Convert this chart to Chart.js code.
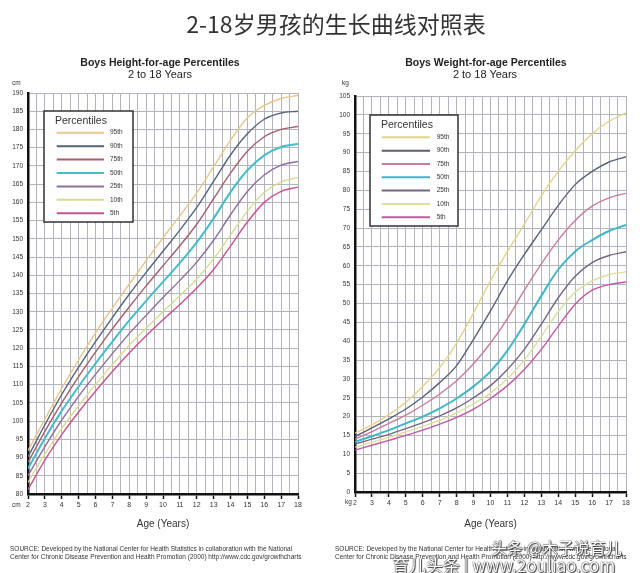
<!DOCTYPE html>
<html><head><meta charset="utf-8">
<script src="https://cdn.jsdelivr.net/npm/chart.js@4.4.0/dist/chart.umd.min.js"></script>
<style>
html,body{margin:0;padding:0;background:#fff;}
#wrap{position:relative;width:640px;height:573px;overflow:hidden;font-family:'Liberation Sans',Arial,sans-serif;color:#222;}
canvas{position:absolute;top:0;}
#cL{left:0px} #cR{left:320px}
.t{position:absolute;white-space:nowrap;line-height:1;}
.c{transform:translateX(-50%);}
.sub1{font-weight:bold;font-size:10.5px;color:#222;}
.sub2{font-size:11px;color:#222;}
.unit{font-size:6.5px;color:#333;}
.src{font-size:6.5px;color:#333;line-height:7.7px;}
.wm{font-family:'Noto Sans CJK SC',sans-serif;color:#fff;text-shadow:0 0 1px #222,0 0 1px #222,1px 1px 1px #444;}
</style></head><body><div id="wrap">
<canvas id="cL" width="320" height="573" style="width:320px;height:573px"></canvas>
<canvas id="cR" width="320" height="573" style="width:320px;height:573px"></canvas>
<div class="t c" style="left:336px;top:12px;font-family:'Noto Sans CJK SC',sans-serif;font-size:23px;color:#333;">2-18岁男孩的生长曲线对照表</div>
<div class="t c sub1" style="left:160px;top:57px;">Boys Height-for-age Percentiles</div>
<div class="t c sub2" style="left:160px;top:69px;">2 to 18 Years</div>
<div class="t c sub1" style="left:486px;top:57px;">Boys Weight-for-age Percentiles</div>
<div class="t c sub2" style="left:485px;top:69px;">2 to 18 Years</div>
<div class="t unit" style="left:12px;top:80px;">cm</div>
<div class="t unit" style="left:12px;top:502px;">cm</div>
<div class="t unit" style="left:342px;top:80px;">kg</div>
<div class="t unit" style="left:345px;top:499px;">kg</div>
<div class="t src" style="left:10px;top:545px;">SOURCE: Developed by the National Center for Health Statistics in collaboration with the National<br>Center for Chronic Disease Prevention and Health Promotion (2000) http://www.cdc.gov/growthcharts</div>
<div class="t src" style="left:335px;top:545px;">SOURCE: Developed by the National Center for Health Statistics in collaboration with the National<br>Center for Chronic Disease Prevention and Health Promotion (2000) http://www.cdc.gov/growthcharts</div>
<div class="t wm" style="left:491px;top:539px;font-size:16px;">头条 @木子说育儿</div>
<div class="t wm" style="left:392px;top:556px;font-size:17px;">育儿头条 | www.2ouliao.com</div>
</div>
<script>
// ---- data ----
const ages = [2,3,4,5,6,7,8,9,10,11,12,13,14,15,16,17,18];
const percentileLabels = ['95th','90th','75th','50th','25th','10th','5th'];

const heightP95 = [91.9,100.5,109.0,116.8,124.2,131.0,137.6,144.0,150.3,156.3,162.6,169.8,177.0,183.2,186.6,188.5,189.3];
const heightP90 = [90.2,99.0,107.3,114.8,121.8,128.4,134.8,140.8,146.6,152.4,158.6,165.8,173.0,178.8,182.8,184.5,185.0];
const heightP75 = [88.7,97.2,105.0,112.2,118.9,125.3,131.3,137.1,142.6,148.1,154.0,161.0,168.0,174.0,178.0,180.0,180.8];
const heightP50 = [87.0,95.3,102.8,109.5,115.8,121.8,127.6,133.0,138.2,143.4,149.0,155.6,162.8,168.8,172.9,175.2,176.0];
const heightP25 = [85.0,93.0,100.3,106.8,112.8,118.5,124.0,129.0,133.9,138.6,143.6,149.6,156.6,163.0,167.5,170.2,171.2];
const heightP10 = [83.2,91.0,98.0,104.2,110.0,115.5,120.8,125.5,130.0,134.4,139.0,144.5,151.0,157.6,162.7,165.6,166.8];
const heightP5  = [81.2,89.3,96.3,102.5,108.2,113.6,118.7,123.4,127.8,132.0,136.5,141.6,148.0,154.6,160.0,163.0,164.2];

const weightP95 = [15.6,17.8,20.5,23.8,28.0,33.0,39.5,47.5,56.0,63.8,71.0,78.5,85.0,90.5,95.0,98.3,100.5];
const weightP90 = [14.7,17.0,19.4,22.0,25.2,29.0,33.5,40.5,48.0,56.0,63.0,69.5,76.0,81.5,85.0,87.5,88.9];
const weightP75 = [14.0,16.0,18.2,20.4,23.0,26.0,29.5,34.0,39.5,46.0,53.5,60.5,66.8,72.0,75.8,78.0,79.2];
const weightP50 = [13.3,14.8,16.4,18.2,20.0,22.2,24.8,28.0,32.0,37.5,44.5,52.0,59.0,63.8,66.8,69.2,70.8];
const weightP25 = [12.7,14.0,15.3,16.8,18.4,20.2,22.3,25.0,28.2,32.5,37.8,44.5,51.5,57.2,60.8,62.7,63.7];
const weightP10 = [11.9,13.2,14.5,15.9,17.4,19.0,21.0,23.4,26.2,30.0,35.0,41.3,47.8,53.0,56.0,57.6,58.4];
const weightP5  = [11.1,12.4,13.7,15.0,16.4,18.0,19.8,22.0,24.8,28.2,32.5,37.8,44.0,49.8,53.5,55.0,55.7];

const heightTicks = {min:80, max:190, step:5};
const weightTicks = {min:0, max:105, step:5};

// ---- styles ----
const heightColors = ['#e8c68c','#56637f','#a45f6c','#45bccb','#8c6d9e','#d7db92','#c9528e'];
const weightColors = ['#e3d38c','#5a6077','#c87b9c','#3fb6c6','#756682','#dbe09e','#c4579f'];
const FONT = "'Liberation Sans', Arial, sans-serif";
const GRID = '#b3b3bd';

function makeDatasets(series, colors){
  return series.map((vals,i)=>({
    label: percentileLabels[i],
    data: ages.map((a,j)=>({x:a,y:vals[j]})),
    borderColor: colors[i],
    backgroundColor: colors[i],
    borderWidth: i===3 ? 2 : 1.4,
    pointRadius: 0,
    cubicInterpolationMode: 'monotone',
    fill: false
  }));
}

const insideLegend = {
  id: 'insideLegend',
  afterDatasetsDraw(chart, args, o){
    const ctx = chart.ctx;
    ctx.save();
    ctx.fillStyle = '#fff';
    ctx.fillRect(o.x, o.y, o.w, o.h);
    ctx.strokeStyle = '#333';
    ctx.lineWidth = 1.5;
    ctx.strokeRect(o.x, o.y, o.w, o.h);
    ctx.fillStyle = '#333';
    ctx.font = '10.5px ' + FONT;
    ctx.textBaseline = 'middle';
    ctx.fillText('Percentiles', o.titleX, o.titleY);
    ctx.font = '6.5px ' + FONT;
    chart.data.datasets.forEach((ds,i)=>{
      const yy = o.firstY + i*o.rowH;
      ctx.strokeStyle = ds.borderColor;
      ctx.lineWidth = 2;
      ctx.beginPath(); ctx.moveTo(o.lineX0, yy); ctx.lineTo(o.lineX1, yy); ctx.stroke();
      ctx.fillStyle = '#333';
      ctx.fillText(ds.label, o.textX, yy);
    });
    ctx.restore();
  }
};

function makeChart(id, series, colors, tk, yWidth, xHeight, pad, legendOpts){
  return new Chart(document.getElementById(id), {
    type: 'line',
    data: { datasets: makeDatasets(series, colors) },
    plugins: [insideLegend],
    options: {
      responsive: false,
      animation: false,
      layout: { padding: pad },
      plugins: { legend: {display:false}, tooltip:{enabled:false}, insideLegend: legendOpts },
      scales: {
        x: {
          type: 'linear', min: 2, max: 18,
          ticks: { stepSize: 0.5, autoSkip: false, maxRotation: 0, padding: 2,
                   callback: v => Number.isInteger(v) ? String(v) : '',
                   font: {size: 7, family: FONT}, color: '#333' },
          grid: { color: GRID, lineWidth: 1, tickLength: 5, tickWidth: 1.5,
                  tickColor: c => (c.tick && Number.isInteger(c.tick.value)) ? '#111' : 'rgba(0,0,0,0)' },
          border: { color: '#111', width: 2.5 },
          title: { display: true, text: 'Age (Years)', font: {size: 10, family: FONT}, color: '#333', padding: {top: 0, bottom: 2} },
          afterFit: s => { s.height = xHeight; }
        },
        y: {
          min: tk.min, max: tk.max,
          ticks: { stepSize: tk.step, padding: 5, font: {size: 6.5, family: FONT}, color: '#333' },
          grid: { color: GRID, lineWidth: 1, drawTicks: false },
          border: { color: '#111', width: 2.5 },
          afterFit: s => { s.width = yWidth; }
        }
      }
    }
  });
}

makeChart('cL', [heightP95,heightP90,heightP75,heightP50,heightP25,heightP10,heightP5], heightColors,
  heightTicks, 28, 38, {top:93, right:22, bottom:41, left:0},
  {x:44, y:111, w:89, h:111, titleX:55, titleY:121, firstY:132.7, rowH:13.43, lineX0:56.7, lineX1:104, textX:110});

makeChart('cR', [weightP95,weightP90,weightP75,weightP50,weightP25,weightP10,weightP5], weightColors,
  weightTicks, 35, 40, {top:96, right:14, bottom:41, left:0},
  {x:50, y:115, w:88, h:111, titleX:61, titleY:125, firstY:137.3, rowH:13.33, lineX0:61.7, lineX1:110, textX:116.7});
</script>
</body></html>
